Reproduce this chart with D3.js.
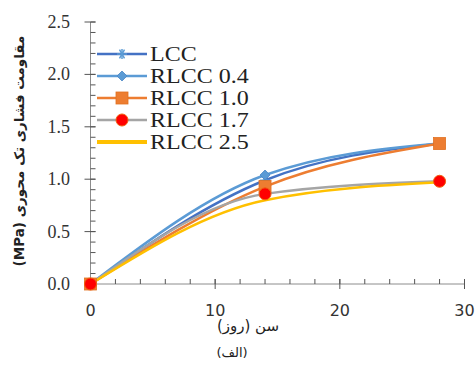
<!DOCTYPE html>
<html>
<head>
<meta charset="utf-8">
<script src="https://cdn.jsdelivr.net/npm/d3@7/dist/d3.min.js"></script>
<style>
  html, body { margin: 0; padding: 0; background: #fff; }
  svg { display: block; }
</style>
</head>
<body>
<svg id="chart" width="475" height="372"></svg>
<script>
// Age of specimens (days)
const days = [0, 14, 28];

// Uniaxial compressive strength (MPa) per mix
const seriesNames = ["LCC", "RLCC 0.4", "RLCC 1.0", "RLCC 1.7", "RLCC 2.5"];
const lcc    = [0, 0.99, 1.34];
const rlcc04 = [0, 1.04, 1.34];
const rlcc10 = [0, 0.93, 1.34];
const rlcc17 = [0, 0.86, 0.98];
const rlcc25 = [0, 0.80, 0.97];

// Axis ticks
const yTicks = [0, 0.5, 1.0, 1.5, 2.0, 2.5];
const yMinor = d3.range(0, 2.51, 0.1);
const xTicks = [0, 10, 20, 30];
const xMinor = d3.range(0, 30.1, 2);

const yTitle = "مقاومت فشاری تک محوری (MPa)";
const xTitle = "سن (روز)";
const caption = "(الف)";

const SERIF = '"Liberation Serif", "Times New Roman", serif';
const SANS = '"DejaVu Sans", sans-serif';

const series = [
  { name: seriesNames[0], values: lcc,    line: "#4472C4", marker: "asterisk", fill: "#5B9BD5" },
  { name: seriesNames[1], values: rlcc04, line: "#5B9BD5", marker: "diamond",  fill: "#5B9BD5" },
  { name: seriesNames[2], values: rlcc10, line: "#ED7D31", marker: "square",   fill: "#ED7D31" },
  { name: seriesNames[3], values: rlcc17, line: "#A5A5A5", marker: "circle",   fill: "#FF0000" },
  { name: seriesNames[4], values: rlcc25, line: "#FFC000", marker: "none",     fill: "#FFC000" }
];

const svg = d3.select("#chart");

const x = d3.scaleLinear().domain([0, 30]).range([90.5, 464.5]);
const y = d3.scaleLinear().domain([0, 2.5]).range([284, 22]);

const axisColor = "#8c8c8c";

// Y axis: minor ticks inside, major ticks across the line
const yAxisG = svg.append("g").attr("transform", `translate(${x(0)},0)`);
yAxisG.append("line").attr("y1", y(0)).attr("y2", y(2.5)).attr("stroke", axisColor).attr("stroke-width", 1);
yAxisG.selectAll(".ymin").data(yMinor).join("line")
  .attr("x1", 0).attr("x2", 5).attr("y1", d => y(d)).attr("y2", d => y(d))
  .attr("stroke", "#555").attr("stroke-width", 1);
yAxisG.selectAll(".ymaj").data(yTicks).join("line")
  .attr("x1", -6).attr("x2", 5).attr("y1", d => y(d)).attr("y2", d => y(d))
  .attr("stroke", "#555").attr("stroke-width", 1);
svg.append("g").selectAll("text").data(yTicks).join("text")
  .style("font-family", SERIF)
  .attr("x", 70).attr("y", d => y(d) + 6)
  .attr("text-anchor", "end")
  .attr("font-size", 18)
  .attr("fill", "#333")
  .text(d => d.toFixed(1));

// X axis
const xAxisG = svg.append("g").attr("transform", `translate(0,${y(0)})`);
xAxisG.append("line").attr("x1", x(0)).attr("x2", x(30)).attr("stroke", axisColor).attr("stroke-width", 1);
xAxisG.selectAll(".xmin").data(xMinor).join("line")
  .attr("x1", d => x(d)).attr("x2", d => x(d)).attr("y1", 0).attr("y2", -5)
  .attr("stroke", "#555").attr("stroke-width", 1);
xAxisG.selectAll(".xmaj").data(xTicks).join("line")
  .attr("x1", d => x(d)).attr("x2", d => x(d)).attr("y1", -5).attr("y2", 5)
  .attr("stroke", "#555").attr("stroke-width", 1);
svg.append("g").selectAll("text").data(xTicks).join("text")
  .style("font-family", SANS)
  .attr("x", d => x(d)).attr("y", 316)
  .attr("text-anchor", "middle")
  .attr("font-size", 16)
  .attr("fill", "#333")
  .text(d => d);

// Smoothed series lines
const line = d3.line()
  .x((d, i) => x(days[i]))
  .y(d => y(d))
  .curve(d3.curveMonotoneX);

svg.append("g").selectAll("path").data(series).join("path")
  .attr("d", s => line(s.values))
  .attr("fill", "none")
  .attr("stroke", s => s.line)
  .attr("stroke-width", 2.5);

// Marker drawing
function drawMarker(g, s, cx, cy) {
  if (s.marker === "asterisk") {
    const r = 5;
    [0, 60, 120].forEach(a => {
      const rad = a * Math.PI / 180;
      g.append("line")
        .attr("x1", cx - r * Math.cos(rad)).attr("y1", cy - r * Math.sin(rad))
        .attr("x2", cx + r * Math.cos(rad)).attr("y2", cy + r * Math.sin(rad))
        .attr("stroke", s.fill).attr("stroke-width", 1.5);
    });
    g.append("line").attr("x1", cx).attr("x2", cx).attr("y1", cy - r).attr("y2", cy + r)
      .attr("stroke", s.fill).attr("stroke-width", 1.5);
  } else if (s.marker === "diamond") {
    const r = 5;
    g.append("path")
      .attr("d", `M${cx},${cy - r}L${cx + r},${cy}L${cx},${cy + r}L${cx - r},${cy}Z`)
      .attr("fill", s.fill).attr("stroke", "#4a86c5").attr("stroke-width", 0.8);
  } else if (s.marker === "square") {
    const r = 6;
    g.append("rect")
      .attr("x", cx - r).attr("y", cy - r).attr("width", 2 * r).attr("height", 2 * r)
      .attr("fill", s.fill).attr("stroke", "#e07020").attr("stroke-width", 0.8);
  } else if (s.marker === "circle") {
    g.append("circle").attr("cx", cx).attr("cy", cy).attr("r", 6)
      .attr("fill", s.fill).attr("stroke", "#f06010").attr("stroke-width", 1);
  }
}

const markersG = svg.append("g");
series.forEach(s => {
  s.values.forEach((v, i) => drawMarker(markersG, s, x(days[i]), y(v)));
});

// Legend
const legend = svg.append("g");
const legendRows = [54, 76, 98, 120, 142];
series.forEach((s, i) => {
  const ly = legendRows[i];
  const row = legend.append("g");
  row.append("line")
    .attr("x1", 97).attr("x2", 147).attr("y1", ly).attr("y2", ly)
    .attr("stroke", s.line).attr("stroke-width", s.marker === "none" ? 4 : 2.5);
  drawMarker(row, s, 122, ly);
  row.append("text")
    .style("font-family", SERIF)
    .attr("transform", `translate(150,${ly + 7}) scale(1.2,1)`)
    .attr("font-size", 20)
    .attr("fill", "#222")
    .text(s.name);
});

// Axis titles and caption
svg.append("text")
  .style("font-family", SANS)
  .attr("transform", `translate(24,151) rotate(-90)`)
  .attr("text-anchor", "middle")
  .attr("direction", "rtl")
  .attr("font-weight", "bold")
  .attr("font-size", 13.5)
  .attr("fill", "#222")
  .text(yTitle);

svg.append("text")
  .style("font-family", SANS)
  .attr("x", 248).attr("y", 331)
  .attr("text-anchor", "middle")
  .attr("direction", "rtl")
  .attr("font-size", 15)
  .attr("fill", "#222")
  .text(xTitle);

svg.append("text")
  .style("font-family", SANS)
  .attr("x", 232).attr("y", 357)
  .attr("text-anchor", "middle")
  .attr("direction", "rtl")
  .attr("font-size", 13)
  .attr("fill", "#222")
  .text(caption);
</script>
</body>
</html>
